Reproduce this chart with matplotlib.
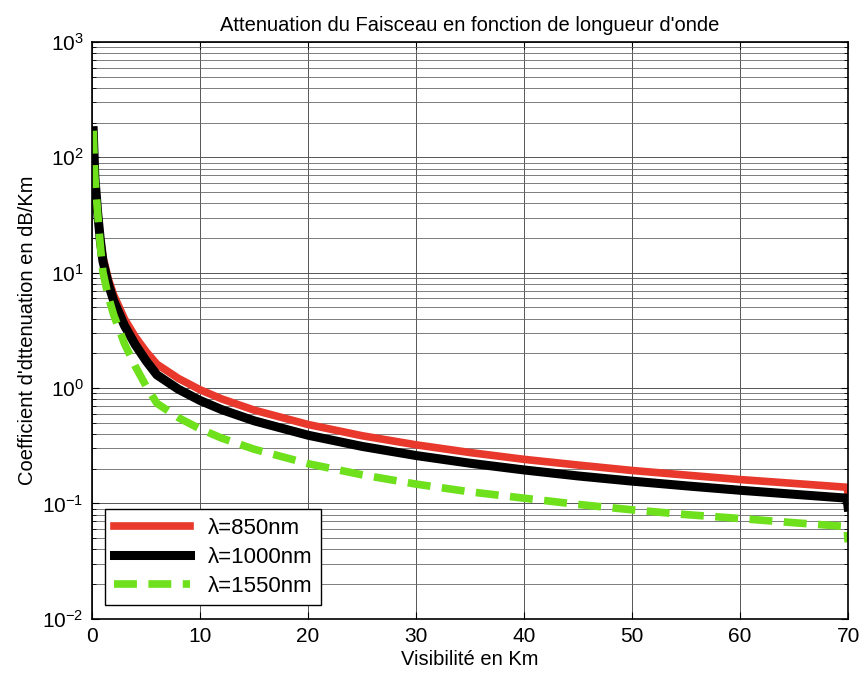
import matplotlib
matplotlib.use("Agg")
import matplotlib.pyplot as plt
from matplotlib.ticker import LogLocator, NullFormatter

plt.rcParams['font.family'] = ['Liberation Sans', 'DejaVu Sans']

# Visibilite (km) and attenuation (dB/km)
visibility = [0.1, 0.25, 0.5, 0.75, 1, 1.5, 2, 3, 4, 5, 6, 8, 10, 12, 15,
              20, 25, 30, 35, 40, 45, 50, 55, 60, 65, 69.9, 70]
att_850 = [170, 68, 34, 20.3, 13.7, 8.8, 6.4, 3.97, 2.78, 2.07, 1.61, 1.21,
           0.966, 0.805, 0.644, 0.483, 0.386, 0.322, 0.276, 0.241, 0.215,
           0.193, 0.176, 0.161, 0.149, 0.138, 0.121]
att_1000 = [170, 68, 34, 19.5, 12.6, 8.0, 5.7, 3.47, 2.37, 1.72, 1.30, 0.975,
            0.780, 0.650, 0.520, 0.390, 0.312, 0.260, 0.223, 0.195, 0.173,
            0.156, 0.142, 0.130, 0.120, 0.111, 0.093]
att_1550 = [170, 68, 34, 17.5, 10.1, 6.2, 4.3, 2.42, 1.54, 1.04, 0.737, 0.553,
            0.442, 0.368, 0.295, 0.221, 0.177, 0.147, 0.126, 0.111, 0.098,
            0.088, 0.080, 0.074, 0.068, 0.063, 0.046]

fig = plt.figure(figsize=(8.61, 6.77), dpi=100)
ax = fig.add_axes([0.107, 0.086, 0.878, 0.852])

ax.semilogy(visibility, att_850, color='#e8392c', linewidth=5.5, label='λ=850nm')
ax.semilogy(visibility, att_1000, color='black', linewidth=6.5, label='λ=1000nm')
ax.semilogy(visibility, att_1550, color='#6fe01c', linewidth=5.5, linestyle='--',
            dashes=(3.0, 1.5), label='λ=1550nm')

ax.set_xlim(0, 70)
ax.set_ylim(1e-2, 1e3)
ax.set_xticks(range(0, 71, 10))
ax.yaxis.set_major_locator(LogLocator(base=10, numticks=10))
ax.yaxis.set_minor_locator(LogLocator(base=10, subs=range(2, 10), numticks=20))
ax.yaxis.set_minor_formatter(NullFormatter())

ax.grid(True, which='major', axis='both', color='#555555', linewidth=0.7)
ax.grid(True, which='minor', axis='y', color='#666666', linewidth=0.6)
ax.tick_params(which='both', direction='in', top=True, right=True, labelsize=15, pad=6)
ax.tick_params(which='major', length=5)
ax.tick_params(which='minor', length=3)
for s in ax.spines.values():
    s.set_linewidth(1.2)

ax.set_title("Attenuation du Faisceau en fonction de longueur d'onde", fontsize=14.5, pad=8)
ax.set_xlabel('Visibilité en Km', fontsize=14.5, labelpad=3)
ax.set_ylabel("Coefficient d'dttenuation en dB/Km", fontsize=14.5, labelpad=4)

leg = ax.legend(loc='lower left', fontsize=16, handlelength=3.4, fancybox=False,
                framealpha=1, edgecolor='black', borderaxespad=0.6,
                labelspacing=0.35)
leg.get_frame().set_linewidth(1.0)

fig.savefig('out.png', dpi=100)
